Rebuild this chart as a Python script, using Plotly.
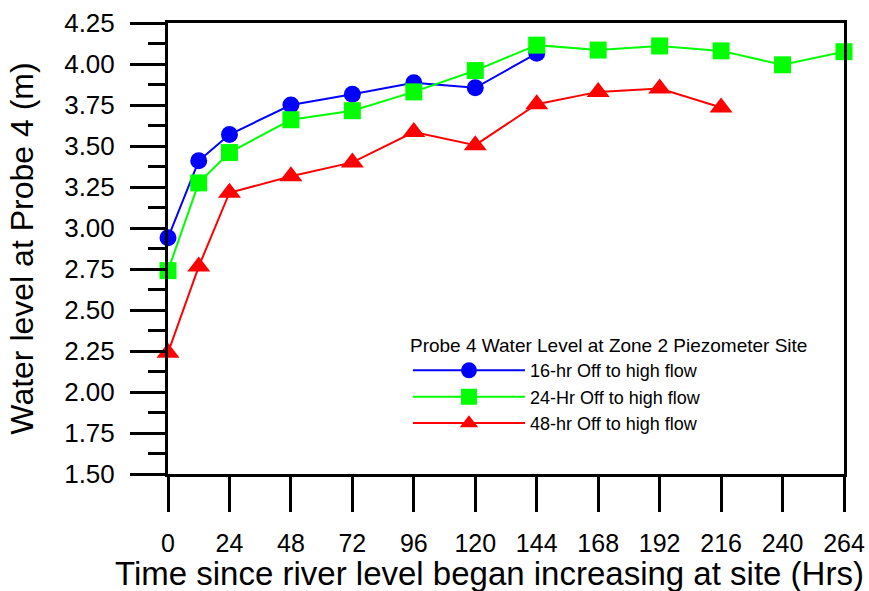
import plotly.graph_objects as go

# Hours since the river level began rising at the site
hours = [0, 12, 24, 48, 72, 96, 120, 144, 168, 192, 216, 240, 264]

# Probe 4 water levels (m) for each flow-shutoff scenario
level_16hr = [2.94, 3.41, 3.57, 3.75, 3.815, 3.885, 3.855, 4.065]
level_24hr = [2.74, 3.275, 3.46, 3.66, 3.715, 3.83, 3.96, 4.115, 4.085, 4.11, 4.08, 3.995, 4.075]
level_48hr = [2.24, 2.765, 3.215, 3.315, 3.40, 3.585, 3.505, 3.755, 3.83, 3.85, 3.735]

x_ticks = list(range(0, 265, 24))
y_ticks = [1.50 + 0.25 * i for i in range(12)]

FONT = "Liberation Sans, Arial, sans-serif"

series = [
    ("16-hr Off to high flow", level_16hr, "#0000FF", "circle", 17),
    ("24-Hr Off to high flow", level_24hr, "#00FF00", "square", 17),
    ("48-hr Off to high flow", level_48hr, "#FF0000", "triangle-up", 20),
]

fig = go.Figure()
for name, values, color, symbol, size in series:
    fig.add_trace(go.Scatter(
        x=hours[:len(values)],
        y=values,
        name=name,
        mode="lines+markers",
        line=dict(color=color, width=2),
        marker=dict(color=color, symbol=symbol, size=size, line=dict(width=0)),
        cliponaxis=False,
    ))

axis_common = dict(
    showline=True,
    linecolor="black",
    linewidth=3,
    mirror=True,
    showgrid=False,
    zeroline=False,
    ticks="outside",
    tickcolor="black",
    tickwidth=3,
    ticklen=35,
    layer="above traces",
    automargin=False,
)

fig.update_xaxes(
    **axis_common,
    range=[0, 264],
    tickvals=x_ticks,
    ticktext=[str(v) for v in x_ticks],
    tickfont=dict(family=FONT, size=25, color="black"),
    ticklabelstandoff=10,
)

fig.update_yaxes(
    **axis_common,
    range=[1.50, 4.25],
    tickvals=y_ticks,
    ticktext=[f"{v:.2f}" for v in y_ticks],
    tickfont=dict(family=FONT, size=26, color="black"),
    ticklabelstandoff=10,
    minor=dict(dtick=0.125, tick0=1.5, ticks="outside", ticklen=17,
               tickwidth=3, tickcolor="black", showgrid=False),
    title=dict(text="Water level at Probe 4 (m)",
               font=dict(family=FONT, size=32, color="black"),
               standoff=21),
)

fig.add_annotation(
    text="Time since river level began increasing at site (Hrs)",
    xref="paper", yref="paper",
    x=0.475, y=-0.175,
    xanchor="center", yanchor="top",
    showarrow=False,
    font=dict(family=FONT, size=33, color="black"),
)

fig.update_layout(
    width=869,
    height=591,
    margin=dict(l=168, r=25, t=23, b=117),
    paper_bgcolor="white",
    plot_bgcolor="white",
    font=dict(family=FONT, color="black"),
    showlegend=True,
    legend=dict(
        title=dict(text="Probe 4 Water Level at Zone 2 Piezometer Site",
                   font=dict(family=FONT, size=19, color="black")),
        font=dict(family=FONT, size=18, color="black"),
        x=0.355, y=0.325,
        xanchor="left", yanchor="top",
        bgcolor="rgba(0,0,0,0)",
        itemwidth=112,
        tracegroupgap=0,
    ),
)

fig.write_html("out.html")
